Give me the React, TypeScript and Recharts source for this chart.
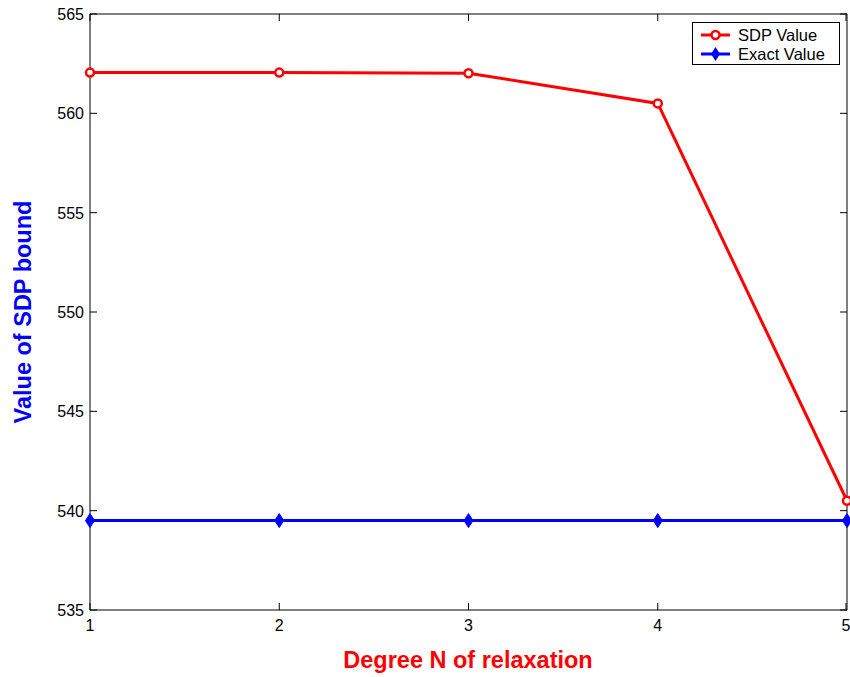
import React from "react";
import { LineChart, Line, XAxis, YAxis, Legend, Label } from "recharts";

const degrees = [1, 2, 3, 4, 5];
const sdpValues = [562.05, 562.05, 562.02, 560.5, 540.5];
const exactValues = [539.5, 539.5, 539.5, 539.5, 539.5];
const yTicks = [535, 540, 545, 550, 555, 560, 565];

const data = degrees.map((d, i) => ({ n: d, sdp: sdpValues[i], exact: exactValues[i] }));

const FONT = "'Liberation Sans', Arial, Helvetica, sans-serif";
const TICK = 7;

const LeftTick = (p: any) => (
  <g>
    <line x1={p.x + 6} x2={p.x + 6 + TICK} y1={p.y} y2={p.y} stroke="#000" />
    <text x={p.x} y={p.y} dy={6} textAnchor="end" fontSize={16} fill="#000">
      {p.payload.value}
    </text>
  </g>
);

const BottomTick = (p: any) => (
  <g>
    <line x1={p.x} x2={p.x} y1={p.y - 6} y2={p.y - 6 - TICK} stroke="#000" />
    <text x={p.x} y={p.y} dy={15} textAnchor="middle" fontSize={16} fill="#000">
      {p.payload.value}
    </text>
  </g>
);

const RightTick = (p: any) => (
  <line x1={p.x} x2={p.x - TICK} y1={p.y} y2={p.y} stroke="#000" />
);

const TopTick = (p: any) => (
  <line x1={p.x} x2={p.x} y1={p.y} y2={p.y + TICK} stroke="#000" />
);

const Diamond = (p: any) => {
  const { cx, cy } = p;
  if (cx == null || cy == null) return null;
  return (
    <path
      d={`M${cx},${cy - 7} L${cx + 4.5},${cy} L${cx},${cy + 7} L${cx - 4.5},${cy} Z`}
      fill="#0000ff"
      stroke="#0000ff"
      strokeWidth={1}
    />
  );
};

const LegendBox = () => (
  <div
    style={{
      border: "1px solid #000",
      background: "#fff",
      width: 148,
      height: 43,
      fontFamily: FONT,
      boxSizing: "border-box",
    }}
  >
    <svg width={146} height={41} style={{ display: "block" }}>
      <line x1={8} x2={37} y1={12} y2={12} stroke="#ff0000" strokeWidth={3} />
      <circle cx={22.5} cy={12} r={4} fill="#fff" stroke="#ff0000" strokeWidth={2.5} />
      <text x={45} y={18} fontSize={16.5} fill="#000">SDP Value</text>
      <line x1={8} x2={37} y1={31} y2={31} stroke="#0000ff" strokeWidth={3} />
      <path d="M22.5,24 L27,31 L22.5,38 L18,31 Z" fill="#0000ff" />
      <text x={45} y={37} fontSize={16.5} fill="#000">Exact Value</text>
    </svg>
  </div>
);

export default function App() {
  return (
    <div style={{ position: "absolute", left: 0, top: 0, background: "#fff" }}>
      <LineChart
        width={850}
        height={677}
        data={data}
        margin={{ top: 0, right: 0, bottom: 0, left: 0 }}
        style={{ fontFamily: FONT }}
      >
        <XAxis
          dataKey="n"
          type="number"
          domain={[1, 5]}
          ticks={degrees}
          height={67}
          tickSize={0}
          tickMargin={6}
          tickLine={false}
          tick={BottomTick}
          axisLine={{ stroke: "#000" }}
        >
          <Label
            content={() => (
              <text x={468} y={668} textAnchor="middle" fontSize={23.5} fontWeight="bold" fill="#ff0000">
                Degree N of relaxation
              </text>
            )}
          />
        </XAxis>
        <XAxis
          xAxisId="t"
          orientation="top"
          dataKey="n"
          type="number"
          domain={[1, 5]}
          ticks={degrees}
          height={14}
          tickSize={0}
          tickMargin={0}
          tickLine={false}
          tick={TopTick}
          axisLine={{ stroke: "#000" }}
        />
        <YAxis
          type="number"
          domain={[535, 565]}
          ticks={yTicks}
          width={90}
          tickSize={0}
          tickMargin={6}
          tickLine={false}
          tick={LeftTick}
          axisLine={{ stroke: "#000" }}
        >
          <Label
            content={() => (
              <text
                x={0}
                y={0}
                transform="translate(31,312) rotate(-90)"
                textAnchor="middle"
                fontSize={23.5}
                fontWeight="bold"
                fill="#0000ff"
              >
                Value of SDP bound
              </text>
            )}
          />
        </YAxis>
        <YAxis
          yAxisId="r"
          orientation="right"
          type="number"
          domain={[535, 565]}
          ticks={yTicks}
          width={3}
          tickSize={0}
          tickMargin={0}
          tickLine={false}
          tick={RightTick}
          axisLine={{ stroke: "#000" }}
        />
        <Legend
          layout="horizontal"
          verticalAlign="middle"
          align="center"
          content={LegendBox}
          wrapperStyle={{ position: "absolute", left: 692, top: 22, width: 148 }}
        />
        <Line
          xAxisId="t"
          yAxisId="r"
          dataKey="sdp"
          stroke="none"
          dot={false}
          legendType="none"
          isAnimationActive={false}
        />
        <Line
          dataKey="exact"
          name="Exact Value"
          stroke="#0000ff"
          strokeWidth={3}
          dot={Diamond}
          activeDot={false}
          isAnimationActive={false}
        />
        <Line
          dataKey="sdp"
          name="SDP Value"
          stroke="#ff0000"
          strokeWidth={3}
          dot={{ r: 4, fill: "#fff", stroke: "#ff0000", strokeWidth: 2.5 }}
          activeDot={false}
          isAnimationActive={false}
        />
      </LineChart>
    </div>
  );
}
